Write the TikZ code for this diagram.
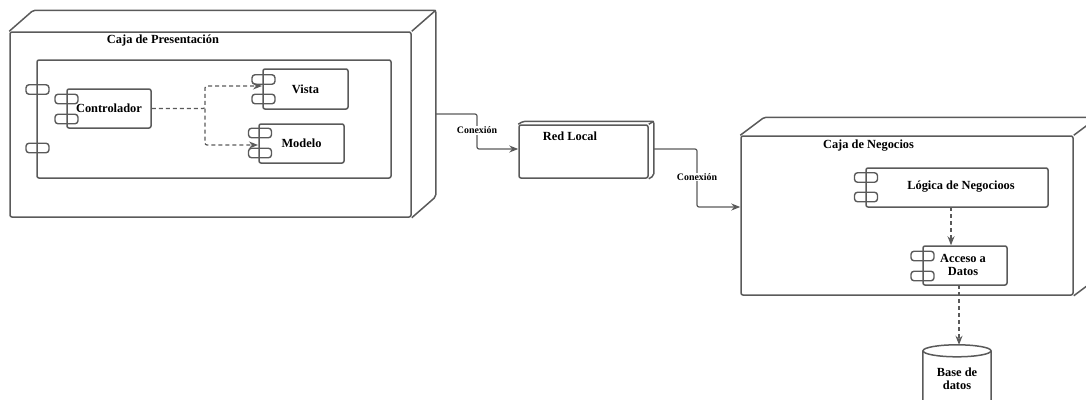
\documentclass[tikz,border=0pt]{standalone}
\usepackage{fontspec}
\setmainfont{Liberation Serif}
\usetikzlibrary{calc,arrows.meta}

\definecolor{linea}{HTML}{5A5A5A}
\tikzset{
    caja/.style={draw=linea, line width=1.5pt, rounded corners=2pt},
    nodo/.style={caja, minimum width=#1, inner sep=0pt, font=\bfseries\fontsize{12.4}{13}\selectfont},
    puerto/.style={draw=linea, line width=1.4pt, rounded corners=3pt, minimum width=23pt, minimum height=9.5pt, inner sep=0pt},
    titulo/.style={inner sep=0pt, font=\bfseries\fontsize{12.4}{13}\selectfont},
    etiqueta/.style={fill=white, inner sep=1pt, font=\bfseries\fontsize{9.9}{11}\selectfont},
    enlace/.style={draw=linea, line width=1.2pt, rounded corners=2pt, -{Stealth[length=9pt,width=7pt]}},
    dependencia/.style={enlace, dashed, dash pattern=on 4pt off 3pt}
}
% caras superior y derecha de una caja 3D
\newcommand{\carasCubo}[3]{
    \draw[caja] (#1.north west) -- ++(#2,-#3) -- ($(#1.north east)+(#2,-#3)$)
        -- ($(#1.south east)+(#2,-#3)$) -- (#1.south east);
    \draw[caja] (#1.north east) -- ++(#2,-#3);
}

\begin{document}
\begin{tikzpicture}[x=1pt, y=-1pt]
    \useasboundingbox (0,0) rectangle (1086,399);

    % Caja de Presentacion
    \node[nodo=401pt, minimum height=185pt] (cajaPres) at (210.5,124.5) {};
    \carasCubo{cajaPres}{24}{21}
    \node[titulo] (tituloPres) at (163,41) {Caja de Presentación};
    \node[nodo=354pt, minimum height=118pt] (interno) at (214,119) {};
    \node[nodo=84pt, minimum height=39pt] (controlador) at (109,108.5) {Controlador};
    \node[nodo=85pt, minimum height=40pt] (vista) at (305.5,89) {Vista};
    \node[nodo=85pt, minimum height=39pt] (modelo) at (301.5,143.5) {Modelo};

    % Red Local
    \node[nodo=129pt, minimum height=53pt] (redLocal) at (583.5,151.5) {};
    \carasCubo{redLocal}{5}{3}
    \node[titulo] (tituloRed) at (570,136) {Red Local};

    % Caja de Negocios
    \node[nodo=332pt, minimum height=159pt] (cajaNeg) at (907,215.5) {};
    \carasCubo{cajaNeg}{24}{18}
    \node[titulo] (tituloNeg) at (868.5,146) {Caja de Negocios};
    \node[nodo=182pt, minimum height=39pt] (logica) at (957,187.5) {};
    \node[titulo] (tituloLogica) at (961,187) {Lógica de Negocioos};
    \node[nodo=84pt, minimum height=39pt] (acceso) at (965,265.5) {};
    \node[titulo, align=center] (tituloAcceso) at (963,265) {Acceso a\\Datos};

    % Base de datos
    \node[titulo, align=center, minimum width=68pt, minimum height=60pt] (baseDatos) at (957,375) {};
    \node[titulo, align=center] (tituloBase) at (957,378.5) {Base de\\datos};
    \draw[caja] ($(baseDatos.north)+(0,6)$) ellipse [x radius=34pt, y radius=6pt];
    \draw[caja] ($(baseDatos.north west)+(0,6)$) -- (baseDatos.south west)
        .. controls +(10,6) and +(-10,6) .. (baseDatos.south east) -- ($(baseDatos.north east)+(0,6)$);

    % Puertos
    \foreach \nombre/\px/\py in {presA/37.5/89.5, presB/37.5/148, ctrlA/66.5/99, ctrlB/66.5/119,
        vistaA/263.5/79.5, vistaB/263.5/99, modeloA/260/133, modeloB/260/153,
        logicaA/866/177.5, logicaB/866/197, accesoA/922.5/256, accesoB/922.5/276}
        \node[puerto] (\nombre) at (\px,\py) {};

    % Conexiones
    \coordinate (salidaPres) at (435,114);
    \coordinate (curvaRed) at (477,149);
    \coordinate (curvaNeg) at (697,207);
    \coordinate (rama) at (205,108.5);
    \coordinate (entradaVista) at (262,86);
    \coordinate (entradaModelo) at (258,145);
    \coordinate (salidaAcceso) at (959,285);
    \coordinate (salidaLogica) at (951,207);

    \draw[enlace] (salidaPres) -| (curvaRed) -- (redLocal.west |- curvaRed);
    \draw[enlace] (redLocal.east |- curvaRed) ++(5,0) -| (curvaNeg) -- (cajaNeg.west |- curvaNeg);
    \node[etiqueta] (conexionA) at (477,130.5) {Conexión};
    \node[etiqueta] (conexionB) at (697,177) {Conexión};

    \draw[dependencia] (controlador.east) -- (rama) |- (entradaVista);
    \draw[dependencia] (rama) |- (entradaModelo);
    \draw[dependencia] (salidaLogica) -- (salidaLogica |- acceso.north);
    \draw[dependencia] (salidaAcceso) -- (salidaAcceso |- baseDatos.north);
\end{tikzpicture}
\end{document}
